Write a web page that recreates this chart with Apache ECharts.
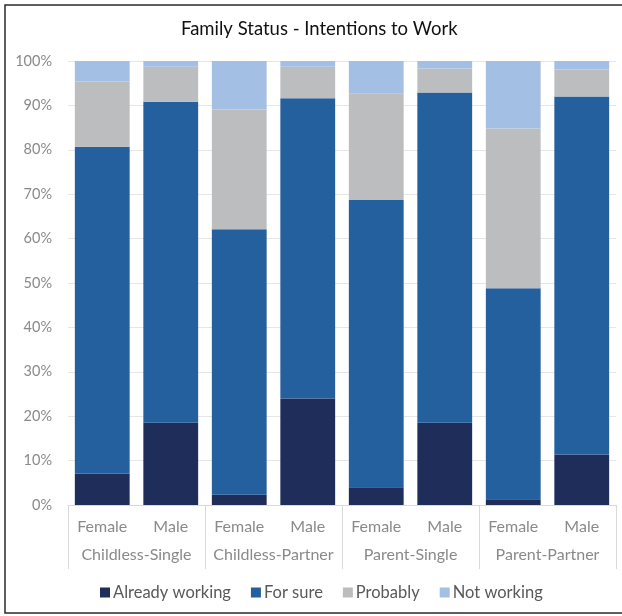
<!DOCTYPE html>
<html>
<head>
<meta charset="utf-8">
<script src="https://cdn.jsdelivr.net/npm/echarts@6/dist/echarts.min.js"></script>
<style>
  html, body { margin: 0; padding: 0; background: #fff; }
  #chart { width: 622px; height: 616px; }
</style>
</head>
<body>
<div id="chart"></div>
<script>
// Sub-categories (sex) and their family-status groups
const sexes = ['Female', 'Male', 'Female', 'Male', 'Female', 'Male', 'Female', 'Male'];
const groups = ['Childless-Single', 'Childless-Partner', 'Parent-Single', 'Parent-Partner'];
const yTicks = ['0%', '10%', '20%', '30%', '40%', '50%', '60%', '70%', '80%', '90%', '100%'];

// Share of respondents (%) in each answer, per bar
const alreadyWorking = [7.1, 18.5, 2.3, 24.0, 4.0, 18.5, 1.3, 11.4];
const forSure        = [73.6, 72.3, 59.8, 67.6, 64.7, 74.4, 47.5, 80.6];
const probably       = [14.7, 7.9, 27.0, 7.1, 23.9, 5.4, 36.0, 6.1];
const notWorking     = [4.6, 1.3, 10.9, 1.3, 7.4, 1.7, 15.2, 1.9];

const seriesNames = ['Already working', 'For sure', 'Probably', 'Not working'];
const seriesData = [alreadyWorking, forSure, probably, notWorking];
const colors = ['#1e2d59', '#245f9e', '#bcbdbf', '#a4bfe4'];

const FONT = 'Lato, "Open Sans", sans-serif';
const chart = echarts.init(document.getElementById('chart'), null, { renderer: 'canvas' });

chart.setOption({
  animation: false,
  backgroundColor: '#fff',
  color: colors,
  title: {
    text: 'Family Status - Intentions to Work',
    left: 176,
    top: 15,
    textStyle: { fontFamily: FONT, fontSize: 18.5, fontWeight: 'normal', color: '#111' }
  },
  legend: {
    data: seriesNames,
    bottom: 10,
    left: 95,
    itemWidth: 10,
    itemHeight: 10,
    itemGap: 20,
    icon: 'rect',
    textStyle: { fontFamily: FONT, fontSize: 16.5, color: '#595959', padding: [0, 0, 0, -2] }
  },
  grid: { left: 68, right: 6, top: 61, bottom: 111 },
  xAxis: [
    {
      type: 'category',
      data: sexes,
      position: 'bottom',
      axisLine: { show: true, lineStyle: { color: '#d9d9d9' } },
      axisTick: { show: false },
      axisLabel: { fontFamily: FONT, fontSize: 16, color: '#8a8a8a', margin: 14, interval: 0 }
    },
    {
      type: 'category',
      data: groups,
      position: 'bottom',
      gridIndex: 0,
      axisLine: { show: false },
      axisTick: { show: true, length: 64, interval: 0, lineStyle: { color: '#d9d9d9' } },
      axisLabel: { fontFamily: FONT, fontSize: 16, color: '#8a8a8a', margin: 42, interval: 0 }
    }
  ],
  yAxis: {
    type: 'value',
    min: 0,
    max: 100,
    interval: 10,
    axisLine: { show: false },
    axisTick: { show: false },
    splitLine: { lineStyle: { color: '#e6e6e6' } },
    axisLabel: {
      fontFamily: FONT, fontSize: 14.5, color: '#8a8a8a', margin: 16,
      formatter: v => yTicks[Math.round(v / 10)]
    }
  },
  series: seriesNames.map((name, i) => ({
    name,
    type: 'bar',
    stack: 'total',
    xAxisIndex: 0,
    barCategoryGap: '20%',
    data: seriesData[i],
    itemStyle: { color: colors[i] }
  })),
  graphic: [
    {
      type: 'rect',
      shape: { x: 5, y: 5, width: 640, height: 608 },
      style: { fill: 'none', stroke: '#2b2b2b', lineWidth: 1.5 },
      silent: true,
      z: 100
    }
  ]
});
</script>
</body>
</html>
